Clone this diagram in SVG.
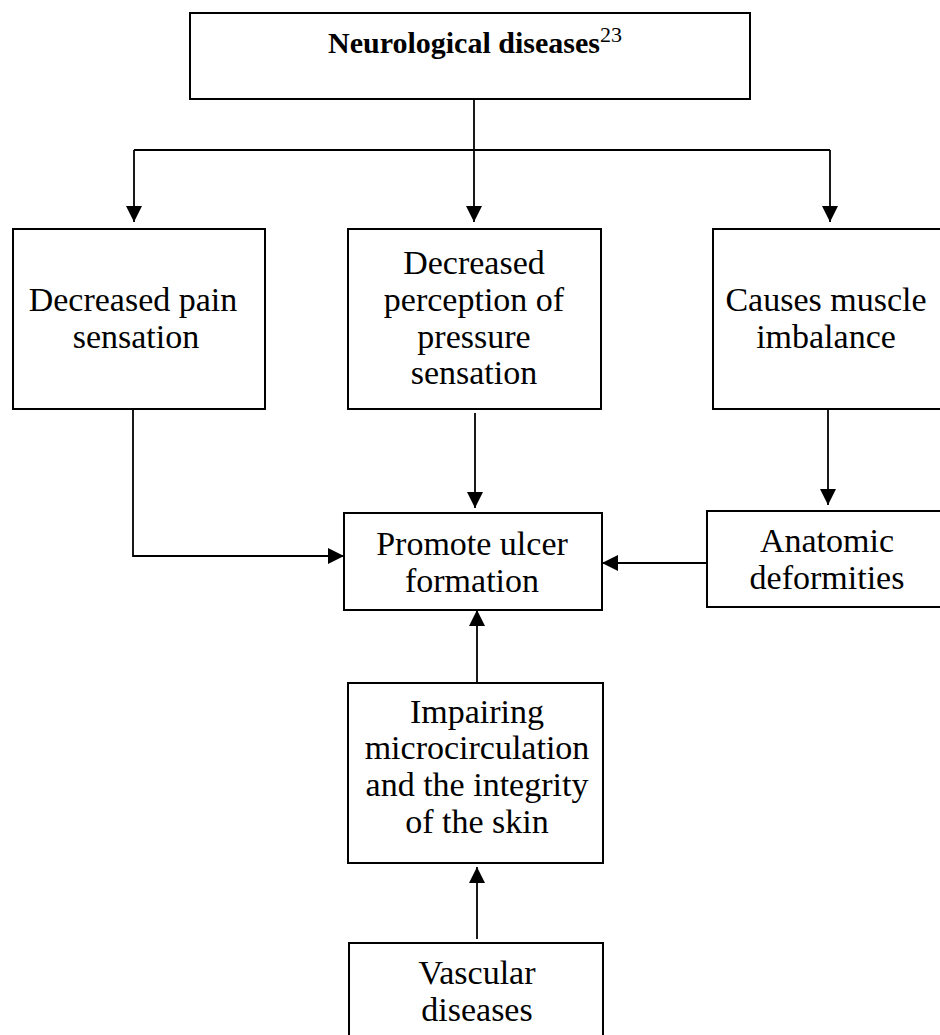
<svg xmlns="http://www.w3.org/2000/svg" width="940" height="1035" viewBox="0 0 940 1035">
<style>
.box{fill:#fff;stroke:#000;stroke-width:2}
.t{font-family:"Liberation Serif","Times New Roman",serif;font-size:34px;fill:#000;text-anchor:middle}
.c{fill:none;stroke:#000;stroke-width:1.8}
</style>
<defs>
<marker id="ah" markerUnits="userSpaceOnUse" markerWidth="16" markerHeight="16" viewBox="0 0 16 16" refX="16" refY="8" orient="auto">
<path d="M0,0 L16,8 L0,16 Z" fill="#000"/>
</marker>
</defs>
<rect width="940" height="1035" fill="#fff"/>
<g id="connectors">
<path class="c" d="M474,99 V150"/>
<path class="c" d="M134,150 H830"/>
<path class="c" d="M134,150 V222" marker-end="url(#ah)"/>
<path class="c" d="M474,150 V222" marker-end="url(#ah)"/>
<path class="c" d="M830,150 V222" marker-end="url(#ah)"/>
<path class="c" d="M133,409 V556 H344" marker-end="url(#ah)"/>
<path class="c" d="M475,413 V508" marker-end="url(#ah)"/>
<path class="c" d="M828,409 V505" marker-end="url(#ah)"/>
<path class="c" d="M707,563 H602" marker-end="url(#ah)"/>
<path class="c" d="M477,683 V610" marker-end="url(#ah)"/>
<path class="c" d="M477,939 V867" marker-end="url(#ah)"/>
</g>
<g id="n-neuro">
<rect class="box" x="190" y="13" width="560" height="86"/>
<text class="t" x="328" y="53" style="text-anchor:start;font-size:30px"><tspan font-weight="bold">Neurological diseases</tspan><tspan font-size="22" dy="-11">23</tspan></text>
</g>
<g id="n-pain">
<rect class="box" x="13" y="229" width="252" height="180"/>
<text class="t" x="133" y="311">Decreased pain</text>
<text class="t" x="136" y="348">sensation</text>
</g>
<g id="n-pressure">
<rect class="box" x="348" y="229" width="253" height="180"/>
<text class="t" x="474" y="274">Decreased</text>
<text class="t" x="474" y="311">perception of</text>
<text class="t" x="474" y="348">pressure</text>
<text class="t" x="474" y="384">sensation</text>
</g>
<g id="n-muscle">
<rect class="box" x="713" y="229" width="240" height="180"/>
<text class="t" x="826" y="311">Causes muscle</text>
<text class="t" x="826" y="348">imbalance</text>
</g>
<g id="n-ulcer">
<rect class="box" x="344" y="513" width="258" height="97"/>
<text class="t" x="472" y="555">Promote ulcer</text>
<text class="t" x="472" y="592">formation</text>
</g>
<g id="n-anatomic">
<rect class="box" x="707" y="511" width="245" height="96"/>
<text class="t" x="827" y="552">Anatomic</text>
<text class="t" x="827" y="589">deformities</text>
</g>
<g id="n-impair">
<rect class="box" x="348" y="683" width="255" height="180"/>
<text class="t" x="477" y="723">Impairing</text>
<text class="t" x="477" y="759">microcirculation</text>
<text class="t" x="477" y="796">and the integrity</text>
<text class="t" x="477" y="833">of the skin</text>
</g>
<g id="n-vascular">
<rect class="box" x="349" y="943" width="254" height="110"/>
<text class="t" x="477" y="984">Vascular</text>
<text class="t" x="477" y="1021">diseases</text>
</g>
</svg>
